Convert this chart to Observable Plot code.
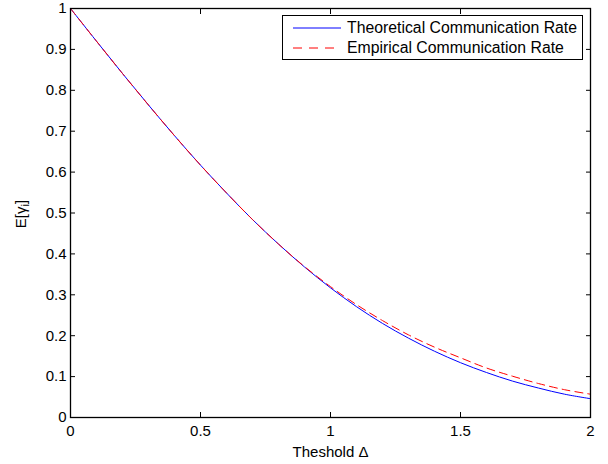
<!DOCTYPE html>
<html>
<head>
<meta charset="utf-8">
<script src="https://cdn.jsdelivr.net/npm/d3@7"></script>
<script src="https://cdn.jsdelivr.net/npm/@observablehq/plot@0.6"></script>
<style>
  html, body { margin: 0; padding: 0; background: #fff; }
  #wrap { position: relative; width: 608px; height: 464px; font-family: "Liberation Sans", Arial, sans-serif; }
  #legend { position: absolute; left: 282px; top: 15px; width: 299px; height: 43px; border: 1px solid #000; background: #fff; font-size: 15.8px; }
  #legend .row { position: absolute; left: 0; height: 20px; display: flex; align-items: center; }
  #legend svg { display: block; margin-left: 10px; margin-right: 6px; }
</style>
</head>
<body>
<div id="wrap"></div>
<script>
const delta = [0, 0.1, 0.2, 0.3, 0.4, 0.5, 0.6, 0.7, 0.8, 0.9, 1.0, 1.1, 1.2, 1.3, 1.4, 1.5, 1.6, 1.7, 1.8, 1.9, 2.0];
const theoretical = [1.000, 0.920, 0.841, 0.764, 0.689, 0.617, 0.549, 0.484, 0.424, 0.368, 0.317, 0.271, 0.230, 0.194, 0.162, 0.134, 0.110, 0.089, 0.072, 0.057, 0.046];
const empirical = [1.000, 0.920, 0.841, 0.764, 0.689, 0.617, 0.549, 0.484, 0.424, 0.369, 0.320, 0.276, 0.237, 0.202, 0.172, 0.146, 0.121, 0.101, 0.083, 0.068, 0.057];
const xTicks = [0, 0.5, 1, 1.5, 2];
const yTicks = [0, 0.1, 0.2, 0.3, 0.4, 0.5, 0.6, 0.7, 0.8, 0.9, 1];
const seriesNames = ["Theoretical Communication Rate", "Empirical Communication Rate"];
const seriesColors = ["#0000ff", "#ff0000"];

const theo = delta.map((d, i) => ({x: d, y: theoretical[i]}));
const emp = delta.map((d, i) => ({x: d, y: empirical[i]}));

const fmt = d => String(d);

const chart = Plot.plot({
  width: 608,
  height: 464,
  marginLeft: 70,
  marginRight: 18,
  marginTop: 8,
  marginBottom: 47,
  style: {fontFamily: "Liberation Sans, Arial, sans-serif", fontSize: "15px", color: "#000", background: "#fff", overflow: "visible"},
  x: {domain: [0, 2]},
  y: {domain: [0, 1]},
  marks: [
    Plot.line(theo, {x: "x", y: "y", stroke: seriesColors[0], strokeWidth: 1, curve: "catmull-rom"}),
    Plot.line(emp, {x: "x", y: "y", stroke: seriesColors[1], strokeWidth: 1, strokeDasharray: "8,5", curve: "catmull-rom"}),
    Plot.axisX({anchor: "bottom", ticks: xTicks, tickSize: -5, tickPadding: 13, tickFormat: fmt, label: null, stroke: "#000", fill: "#000"}),
    Plot.axisX({anchor: "top", ticks: xTicks, tickSize: -5, tickFormat: () => "", label: null}),
    Plot.axisY({anchor: "left", ticks: yTicks, tickSize: -5, tickPadding: 9, tickFormat: fmt, label: null, fill: "#000"}),
    Plot.axisY({anchor: "right", ticks: yTicks, tickSize: -5, tickFormat: () => "", label: null}),
    Plot.frame({stroke: "#000", strokeWidth: 1.3}),
    Plot.text(["Theshold Δ"], {frameAnchor: "bottom", text: d => d, dy: 39, fontSize: 15, fill: "#000"})
  ]
});

const wrap = document.getElementById("wrap");
wrap.appendChild(chart);

// y axis label with subscript
const svg = d3.select(chart);
const yl = svg.append("text")
  .attr("transform", "translate(22,214) rotate(-90)")
  .attr("text-anchor", "middle")
  .attr("dominant-baseline", "middle")
  .attr("font-size", 15)
  .attr("fill", "#000");
yl.append("tspan").text("E[γ");
yl.append("tspan").attr("font-size", 11).attr("dy", 4).text("i");
yl.append("tspan").attr("dy", -4).text("]");

// legend
const legend = document.createElement("div");
legend.id = "legend";
seriesNames.forEach((name, i) => {
  const row = document.createElement("div");
  row.className = "row";
  row.style.top = (i === 0 ? 2 : 22) + "px";
  const s = d3.create("svg").attr("width", 48).attr("height", 4);
  s.append("line").attr("x1", 0).attr("x2", 48).attr("y1", 2).attr("y2", 2)
    .attr("stroke", seriesColors[i]).attr("stroke-width", 1)
    .attr("stroke-dasharray", i === 1 ? "9,7" : null);
  row.appendChild(s.node());
  const t = document.createElement("span");
  t.textContent = name;
  row.appendChild(t);
  legend.appendChild(row);
});
wrap.appendChild(legend);
</script>
</body>
</html>
